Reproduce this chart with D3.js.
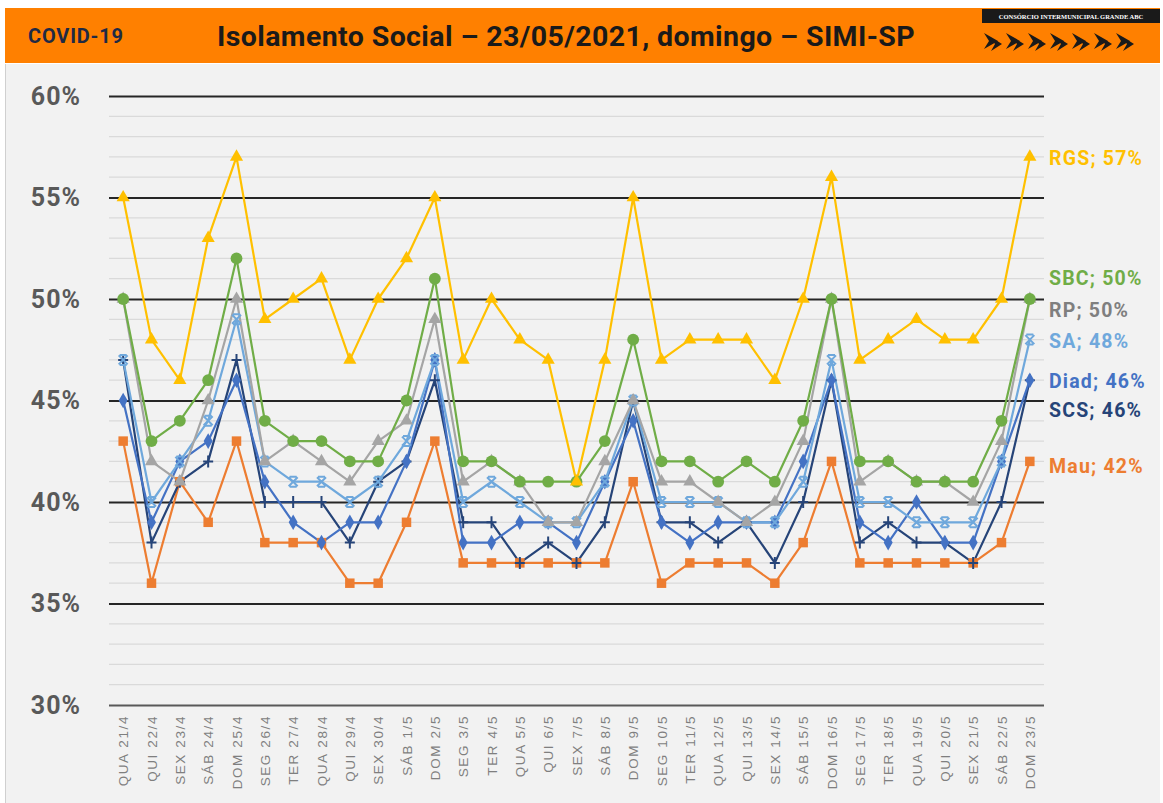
<!DOCTYPE html>
<html>
<head>
<meta charset="utf-8">
<script src="https://cdn.jsdelivr.net/npm/d3@7"></script>
<style>
  html, body { margin: 0; padding: 0; background: #ffffff; }
  svg { display: block; }
</style>
</head>
<body>
<svg id="chart" width="1163" height="803"></svg>
<script>
const categories = ["QUA 21/4","QUI 22/4","SEX 23/4","SÁB 24/4","DOM 25/4","SEG 26/4","TER 27/4","QUA 28/4","QUI 29/4","SEX 30/4","SÁB 1/5","DOM 2/5","SEG 3/5","TER 4/5","QUA 5/5","QUI 6/5","SEX 7/5","SÁB 8/5","DOM 9/5","SEG 10/5","TER 11/5","QUA 12/5","QUI 13/5","SEX 14/5","SÁB 15/5","DOM 16/5","SEG 17/5","TER 18/5","QUA 19/5","QUI 20/5","SEX 21/5","SÁB 22/5","DOM 23/5"];

const RGS  = [55,48,46,53,57,49,50,51,47,50,52,55,47,50,48,47,41,47,55,47,48,48,48,46,50,56,47,48,49,48,48,50,57];
const SBC  = [50,43,44,46,52,44,43,43,42,42,45,51,42,42,41,41,41,43,48,42,42,41,42,41,44,50,42,42,41,41,41,44,50];
const RP   = [50,42,41,45,50,42,43,42,41,43,44,49,41,42,41,39,39,42,45,41,41,40,39,40,43,50,41,42,41,41,40,43,50];
const SA   = [47,40,42,44,49,42,41,41,40,41,43,47,40,41,40,39,39,41,45,40,40,40,39,39,41,47,40,40,39,39,39,42,48];
const Diad = [45,39,42,43,46,41,39,38,39,39,42,47,38,38,39,39,38,41,44,39,38,39,39,39,42,46,39,38,40,38,38,42,46];
const SCS  = [47,38,41,42,47,40,40,40,38,41,42,46,39,39,37,38,37,39,45,39,39,38,39,37,40,46,38,39,38,38,37,40,46];
const Mau  = [43,36,41,39,43,38,38,38,36,36,39,43,37,37,37,37,37,37,41,36,37,37,37,36,38,42,37,37,37,37,37,38,42];

const yTicks = [30,35,40,45,50,55,60];

const series = [
  {name:"Mau",  values:Mau,  color:"#ED7D31", marker:"square"},
  {name:"SCS",  values:SCS,  color:"#264478", marker:"plus"},
  {name:"Diad", values:Diad, color:"#4472C4", marker:"diamond"},
  {name:"SA",   values:SA,   color:"#6FA8DC", marker:"x"},
  {name:"RP",   values:RP,   color:"#A5A5A5", marker:"triangle"},
  {name:"SBC",  values:SBC,  color:"#70AD47", marker:"circle"},
  {name:"RGS",  values:RGS,  color:"#FFC000", marker:"triangle"}
];

const labels = [
  {name:"RGS",  text:"RGS; 57%",  color:"#FFC000", y:158},
  {name:"SBC",  text:"SBC; 50%",  color:"#70AD47", y:278},
  {name:"RP",   text:"RP; 50%",   color:"#7F7F7F", y:310},
  {name:"SA",   text:"SA; 48%",   color:"#6FA8DC", y:341},
  {name:"Diad", text:"Diad; 46%", color:"#4472C4", y:381},
  {name:"SCS",  text:"SCS; 46%",  color:"#264478", y:410},
  {name:"Mau",  text:"Mau; 42%",  color:"#ED7D31", y:466}
];

const svg = d3.select("#chart");
const W = 1163, H = 803;

// background panels
svg.append("rect").attr("x",0).attr("y",0).attr("width",W).attr("height",H).attr("fill","#ffffff");
svg.append("rect").attr("x",5).attr("y",64).attr("width",1155).attr("height",H-64).attr("fill","#F2F2F2");
svg.append("line").attr("x1",5.5).attr("x2",5.5).attr("y1",64).attr("y2",H).attr("stroke","#d0d0d0");

// header
svg.append("rect").attr("x",5).attr("y",8).attr("width",1155).attr("height",55).attr("fill","#FF8000");
svg.append("text").attr("x",28).attr("y",43).text("COVID-19")
  .attr("font-family","Roboto, 'Liberation Sans', Arial, sans-serif").attr("font-weight","bold")
  .attr("font-size",20).attr("letter-spacing","0.8px").attr("fill","#1F2A44");
svg.append("text").attr("x",566).attr("y",46).attr("text-anchor","middle")
  .text("Isolamento Social – 23/05/2021, domingo – SIMI-SP")
  .attr("font-family","Roboto, 'Liberation Sans', Arial, sans-serif").attr("font-weight","bold")
  .attr("font-size",28.5).attr("letter-spacing","0.4px").attr("fill","#1a1a1a");
// logo
svg.append("rect").attr("x",982).attr("y",9).attr("width",178).attr("height",14).attr("fill","#1a1a1a");
svg.append("text").attr("x",1071).attr("y",19).attr("text-anchor","middle")
  .text("CONSÓRCIO INTERMUNICIPAL GRANDE ABC")
  .attr("font-family","'Liberation Serif', serif").attr("font-weight","bold")
  .attr("font-size",6.5).attr("fill","#ffffff");
const chev = svg.append("g");
for (let k = 0; k < 7; k++) {
  const cx = 992 + k*22;
  chev.append("path")
    .attr("d", `M${cx-8},33 L${cx+6},41 L${cx-8},49 L${cx-3},41 Z M${cx-1},37 L${cx+10},44 L${cx-1},51 L${cx+3},44 Z`)
    .attr("fill","#1a1a1a");
}

// scales
const x = d3.scalePoint().domain(categories).range([109, 1044]).padding(0.5);
const y = d3.scaleLinear().domain([30,60]).range([705, 96]);

// minor grid
const minor = d3.range(30, 61, 1).filter(v => v % 5 !== 0);
svg.append("g").selectAll("line").data(minor).join("line")
  .attr("x1",109).attr("x2",1044)
  .attr("y1",d=>y(d)).attr("y2",d=>y(d))
  .attr("stroke","#DADADA").attr("stroke-width",1.2);

// y axis with major gridlines
const yAxis = d3.axisLeft(y).tickValues(yTicks).tickFormat(d => d + "%").tickSize(-(1044-109)).tickPadding(28);
const gy = svg.append("g").attr("transform","translate(109,0)").call(yAxis);
gy.select(".domain").remove();
gy.selectAll(".tick line").attr("stroke","#262626").attr("stroke-width",2);
gy.selectAll(".tick text").attr("font-family","Roboto, 'Liberation Sans', Arial, sans-serif")
  .attr("font-weight","bold").attr("font-size",25).attr("letter-spacing","1px").attr("fill","#595959");
gy.selectAll(".tick").filter(d => d === 30).select("line").attr("stroke","#595959");

// x axis labels
const xAxis = d3.axisBottom(x).tickSize(0).tickPadding(0);
const gx = svg.append("g").attr("transform","translate(0,705)").call(xAxis);
gx.select(".domain").remove();
gx.selectAll(".tick text")
  .attr("transform","rotate(-90)")
  .attr("x",-10).attr("y",0).attr("dy","0.35em")
  .attr("text-anchor","end")
  .attr("font-family","'Liberation Sans', Arial, sans-serif")
  .attr("font-size",13.5).attr("letter-spacing","1.6px").attr("fill","#7F7F7F");

// lines
const line = d3.line().x((d,i)=>x(categories[i])).y(d=>y(d));
const plot = svg.append("g");
series.forEach(s => {
  plot.append("path").datum(s.values).attr("d",line)
    .attr("fill","none").attr("stroke",s.color).attr("stroke-width",2.2)
    .attr("stroke-linejoin","round");
});

// markers
function drawMarker(g, type, color) {
  const sym = {
    square: d3.symbol(d3.symbolSquare, 90),
    circle: d3.symbol(d3.symbolCircle, 110),
    triangle: d3.symbol(d3.symbolTriangle, 75),
    diamond: d3.symbol(d3.symbolDiamond, 70)
  };
  if (sym[type]) {
    g.append("path").attr("d", sym[type]()).attr("fill", color);
  } else if (type === "plus") {
    g.append("path").attr("d","M-5,0 L5,0 M0,-6 L0,6").attr("stroke",color).attr("stroke-width",2);
  } else if (type === "x") {
    g.append("path").attr("d","M-4.5,-4.5 L4.5,4.5 M-4.5,4.5 L4.5,-4.5 M-3.5,-5 L3.5,-5 M-3.5,5 L3.5,5").attr("stroke",color).attr("stroke-width",2);
  }
}
series.forEach(s => {
  s.values.forEach((v,i) => {
    const g = plot.append("g").attr("transform",`translate(${x(categories[i])},${y(v)})`);
    drawMarker(g, s.marker, s.color);
  });
});

// end labels
svg.append("g").selectAll("text").data(labels).join("text")
  .attr("x",1049).attr("y",d=>d.y).attr("dy","0.35em")
  .text(d=>d.text)
  .attr("font-family","Roboto, 'Liberation Sans', Arial, sans-serif")
  .attr("font-weight","bold").attr("font-size",19.5).attr("letter-spacing","1.2px")
  .attr("fill",d=>d.color);
</script>
</body>
</html>
